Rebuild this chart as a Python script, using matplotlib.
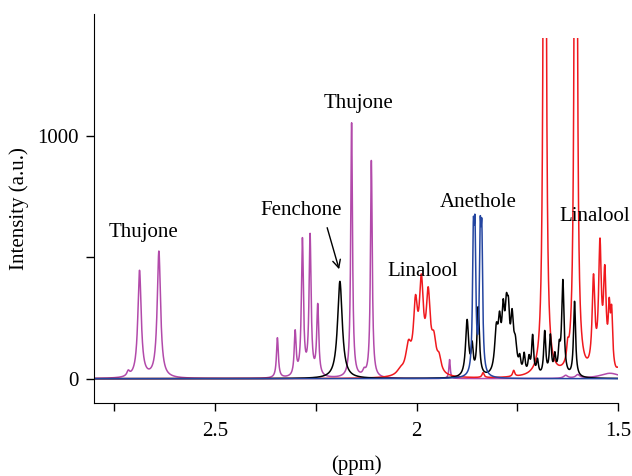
import numpy as np
import matplotlib
matplotlib.use("Agg")
import matplotlib.pyplot as plt
from matplotlib.patches import Rectangle

plt.rcParams['font.family'] = ['Liberation Serif', 'DejaVu Serif']

# ---- peak lists (ppm, intensity, half-width ppm) ----
thujone_pos = [2.715, 2.687, 2.639, 2.345, 2.301, 2.283, 2.264, 2.245, 2.161, 2.112, 2.13, 1.918, 1.63, 1.60, 1.52]
thujone_amp = [20, 440, 520, 165, 180, 560, 575, 290, 1050, 895, 20, 78, 12, 14, 22]
thujone_wid = [0.004, 0.005, 0.005, 0.0028, 0.0028, 0.003, 0.003, 0.003, 0.0026, 0.0026, 0.004, 0.002, 0.006, 0.006, 0.03]

fenchone_pos = [2.190, 1.8745, 1.862, 1.847, 1.802, 1.794, 1.785, 1.777, 1.772, 1.763, 1.755,
                1.744, 1.733, 1.721, 1.712, 1.700, 1.682, 1.668, 1.657, 1.646, 1.637, 1.608]
fenchone_amp = [400, 230, 110, 280, 170, 170, 220, 210, 180, 200, 110,
                55, 80, 65, 160, 60, 180, 160, 75, 95, 390, 310]
fenchone_wid = [0.007, 0.0045, 0.003, 0.0035, 0.005, 0.004, 0.004, 0.004, 0.0035, 0.004, 0.005,
                0.003, 0.003, 0.003, 0.003, 0.003, 0.003, 0.003, 0.003, 0.003, 0.0035, 0.003]

anethole_pos = [1.859, 1.855, 1.842, 1.838]
anethole_amp = [500, 500, 495, 495]
anethole_wid = [0.0025, 0.0025, 0.0025, 0.0025]

linalool_pos = [2.04, 2.020, 2.0025, 1.988, 1.971, 1.957, 1.944, 1.835, 1.759, 1.682, 1.625, 1.605,
                1.561, 1.545, 1.533, 1.522, 1.516, 1.50]
linalool_amp = [20, 110, 260, 345, 300, 120, 55, 20, 25, 6000, 60, 6000,
                370, 500, 380, 220, 220, 20]
linalool_wid = [0.01, 0.008, 0.006, 0.006, 0.006, 0.007, 0.006, 0.003, 0.003, 0.0025, 0.003, 0.0025,
                0.004, 0.004, 0.004, 0.003, 0.003, 0.004]

labels = ["Thujone", "Fenchone", "Thujone", "Linalool", "Anethole", "Linalool"]
label_x = [2.676, 2.285, 2.144, 1.985, 1.847, 1.557]
label_y = [603, 690, 1132, 442, 723, 665]

x_major = [2.5, 2.0, 1.5]
x_major_labels = ["2.5", "2", "1.5"]
x_minor = [2.75, 2.25, 1.75]
y_ticks = [0, 500, 1000]
y_tick_labels = ["0", "", "1000"]

ppm = np.linspace(2.8, 1.5, 4000)


def spectrum(pos, amp, wid):
    s = np.zeros_like(ppm)
    for p, a, w in zip(pos, amp, wid):
        s += a / (1.0 + ((ppm - p) / w) ** 2)
    return s


fig = plt.figure(figsize=(6.32, 4.76), dpi=100)
ax = fig.add_axes([0.1487, 0.1534, 0.978 - 0.1487, 0.9706 - 0.1534])
ax.set_xlim(2.8, 1.5)
ax.set_ylim(-100, 1500)

clip = Rectangle((1.5, -100), 1.3, 1500, transform=ax.transData, visible=False)
ax.add_patch(clip)

series = [
    (thujone_pos, thujone_amp, thujone_wid, '#b24aaa'),
    (linalool_pos, linalool_amp, linalool_wid, '#f0191e'),
    (fenchone_pos, fenchone_amp, fenchone_wid, '#000000'),
    (anethole_pos, anethole_amp, anethole_wid, '#2445a0'),
]
for pos, amp, wid, col in series:
    ln, = ax.plot(ppm, spectrum(pos, amp, wid), color=col, lw=1.1)
    ln.set_clip_path(clip)

for t, x, y in zip(labels, label_x, label_y):
    ax.text(x, y, t, ha='center', va='center', fontsize=15)

ax.annotate("", xy=(2.190, 439), xytext=(2.2235, 632),
            arrowprops=dict(arrowstyle='->', color='black', lw=1.0, mutation_scale=14))

ax.spines['top'].set_visible(False)
ax.spines['right'].set_visible(False)
ax.set_xticks(x_major)
ax.set_xticklabels(x_major_labels)
ax.set_xticks(x_minor, minor=True)
ax.set_yticks(y_ticks)
ax.set_yticklabels(y_tick_labels)
ax.tick_params(axis='both', which='both', direction='out', length=6, width=1, labelsize=15)
ax.tick_params(axis='x', pad=8)
ax.tick_params(axis='y', pad=5)
ax.set_xlabel("(ppm)", fontsize=15, labelpad=10)
ax.set_ylabel("Intensity (a.u.)", fontsize=15, labelpad=6)

fig.savefig("out.png", dpi=100)
